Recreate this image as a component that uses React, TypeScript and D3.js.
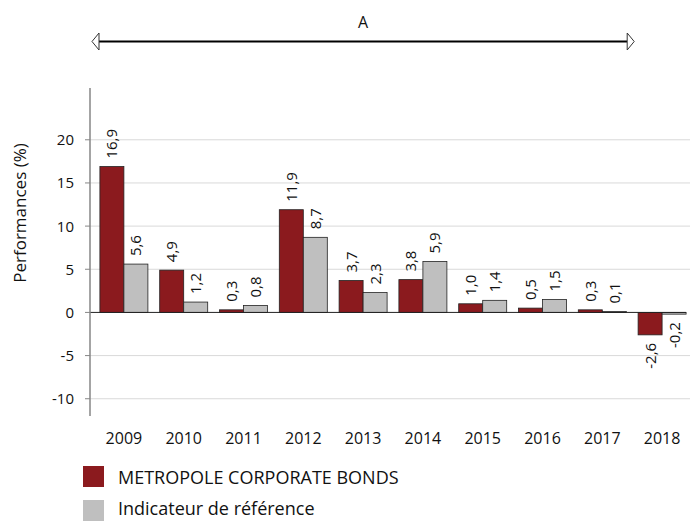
import React from "react";
import * as d3 from "d3";

const years = ["2009","2010","2011","2012","2013","2014","2015","2016","2017","2018"];
const fundValues = [16.9, 4.9, 0.3, 11.9, 3.7, 3.8, 1.0, 0.5, 0.3, -2.6];
const benchValues = [5.6, 1.2, 0.8, 8.7, 2.3, 5.9, 1.4, 1.5, 0.1, -0.2];
const yTicks = [-10, -5, 0, 5, 10, 15, 20];
const seriesNames = ["METROPOLE CORPORATE BONDS", "Indicateur de référence"];
const seriesColors = ["#8B1A1E", "#BFBFBF"];
const arrowLabel = "A";
const arrowYears = ["2009", "2017"];

const W = 695, H = 522;
const axisX = 90, left = 94, right = 692, top = 88, bottom = 416;
const font = "'Open Sans', sans-serif";

export default function App() {
  const x = d3.scaleBand().domain(years).range([left, right]).paddingInner(0).paddingOuter(0);
  const bw = x.bandwidth();
  const pad = 5.9;
  const barW = (bw - 2 * pad) / 2;
  const y = d3.scaleLinear().domain([-12, 26]).range([bottom, top]);
  const fmt = (v: number) => v.toFixed(1).replace(".", ",");
  const series = [fundValues, benchValues];
  const ax0 = x(arrowYears[0])! - 2;
  const ax1 = x(arrowYears[1])! + bw + 2;
  const ay = 41.5;
  const hw = 7, hh = 8.5;
  return (
    <svg width={W} height={H} style={{ position: "absolute", left: 0, top: 0 }} fontFamily={font}>
      <rect width={W} height={H} fill="#fff" />
      {yTicks.filter(t => t !== 0).map(t => (
        <line key={t} x1={axisX} x2={W - 5} y1={y(t)} y2={y(t)} stroke="#D9D9D9" strokeWidth={1} />
      ))}
      {yTicks.map(t => (
        <g key={"t" + t}>
          <line x1={axisX - 5} x2={axisX} y1={y(t)} y2={y(t)} stroke="#868686" />
          <text x={74} y={y(t)} dy="0.36em" textAnchor="end" fontSize={15} fill="#111">{t}</text>
        </g>
      ))}
      {series.map((vals, si) => vals.map((v, i) => {
        const bx = x(years[i])! + pad + si * barW;
        const y0 = y(0), yv = y(v);
        const cx = bx + barW / 2;
        const pos = v >= 0;
        return (
          <g key={si + "-" + i}>
            <rect x={bx} y={Math.min(y0, yv)} width={barW} height={Math.abs(yv - y0)} fill={seriesColors[si]} stroke="#222" strokeWidth={0.8} />
            <text
              transform={`translate(${cx + 5.4},${pos ? yv - 8 : yv + 8}) rotate(-90)`}
              textAnchor={pos ? "start" : "end"}
              fontSize={15}
              fill="#111"
            >{fmt(v)}</text>
          </g>
        );
      }))}
      <line x1={axisX} x2={right - 6} y1={y(0)} y2={y(0)} stroke="#222" strokeWidth={1} />
      <line x1={axisX} x2={axisX} y1={top} y2={bottom} stroke="#868686" strokeWidth={1.5} />
      {years.map(yr => (
        <text key={yr} x={x(yr)! + bw / 2} y={444} textAnchor="middle" fontSize={16} fill="#111">{yr}</text>
      ))}
      <text transform={`translate(26,213) rotate(-90)`} textAnchor="middle" fontSize={17} fill="#111">Performances (%)</text>
      <line x1={ax0 + hw} x2={ax1 - hw} y1={ay} y2={ay} stroke="#000" strokeWidth={2} />
      <path d={`M${ax0},${ay} L${ax0 + hw},${ay - hh} L${ax0 + hw},${ay + hh} Z`} fill="#fff" stroke="#333" strokeWidth={1} />
      <path d={`M${ax1},${ay} L${ax1 - hw},${ay - hh} L${ax1 - hw},${ay + hh} Z`} fill="#fff" stroke="#333" strokeWidth={1} />
      <text x={(ax0 + ax1) / 2} y={28} textAnchor="middle" fontSize={16} fill="#111">{arrowLabel}</text>
      {seriesNames.map((n, i) => (
        <g key={n}>
          <rect x={83} y={466 + i * 34} width={21} height={21} fill={seriesColors[i]} />
          <text x={118} y={484 + i * 31} fontSize={18} fill="#111">{n}</text>
        </g>
      ))}
    </svg>
  );
}
